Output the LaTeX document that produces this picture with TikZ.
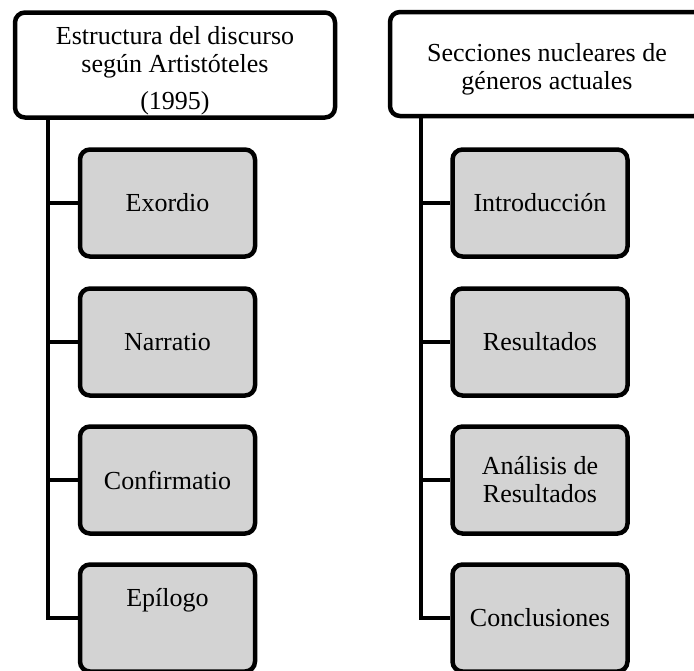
\documentclass[tikz,border=0pt]{standalone}
\usepackage{fontspec}
\setmainfont{Liberation Serif}
\definecolor{boxgray}{RGB}{211,211,211}
\newcommand{\lowered}[1]{\raisebox{-6pt}[\height][\depth]{\begin{tabular}{@{}c@{}}#1\end{tabular}}}
\begin{document}
\begin{tikzpicture}[x=1pt,y=-1pt,line width=4.5pt]

      \clip (0,0) rectangle (694,670);

      \begin{scope}[every node/.style={draw,rounded corners=10pt,fill=white,align=center,
          font=\fontsize{26}{28}\selectfont,inner sep=0pt}]
        \node[minimum width=320,minimum height=105] (hdrL) at (175,65)
          {\lowered{Estructura del discurso\\según Artistóteles\\[9pt](1995)}};
        \node[minimum width=314,minimum height=104] (hdrR) at (547,64)
          {\lowered{Secciones nucleares de\\géneros actuales}};
      \end{scope}

      \coordinate (trunkL) at (48,618);
      \coordinate (trunkR) at (421,618);

      \begin{scope}[every node/.style={draw,rounded corners=10pt,fill=boxgray,align=center,
          font=\fontsize{26}{28}\selectfont,inner sep=0pt,minimum width=175,minimum height=107}]
        \node (exordio)      at (167.5,203) {Exordio};
        \node (narratio)     at (167.5,342) {Narratio};
        \node (confirmatio)  at (167.5,480) {Confirmatio};
        \node (epilogo)      at (167.5,618) {\raisebox{18pt}[\height][\depth]{Epílogo}};
        \node (introduccion) at (540,203) {Introducción};
        \node (resultados)   at (540,342) {Resultados};
        \node (analisis)     at (540,480) {Análisis de\\Resultados};
        \node (conclusiones) at (540,618) {Conclusiones};
      \end{scope}

      \draw (hdrL.south -| trunkL) |- (epilogo.west);
      \draw (trunkL |- exordio) -- (exordio.west);
      \draw (trunkL |- narratio) -- (narratio.west);
      \draw (trunkL |- confirmatio) -- (confirmatio.west);
      \draw (hdrR.south -| trunkR) |- (conclusiones.west);
      \draw (trunkR |- introduccion) -- (introduccion.west);
      \draw (trunkR |- resultados) -- (resultados.west);
      \draw (trunkR |- analisis) -- (analisis.west);

    \end{tikzpicture}
\end{document}
